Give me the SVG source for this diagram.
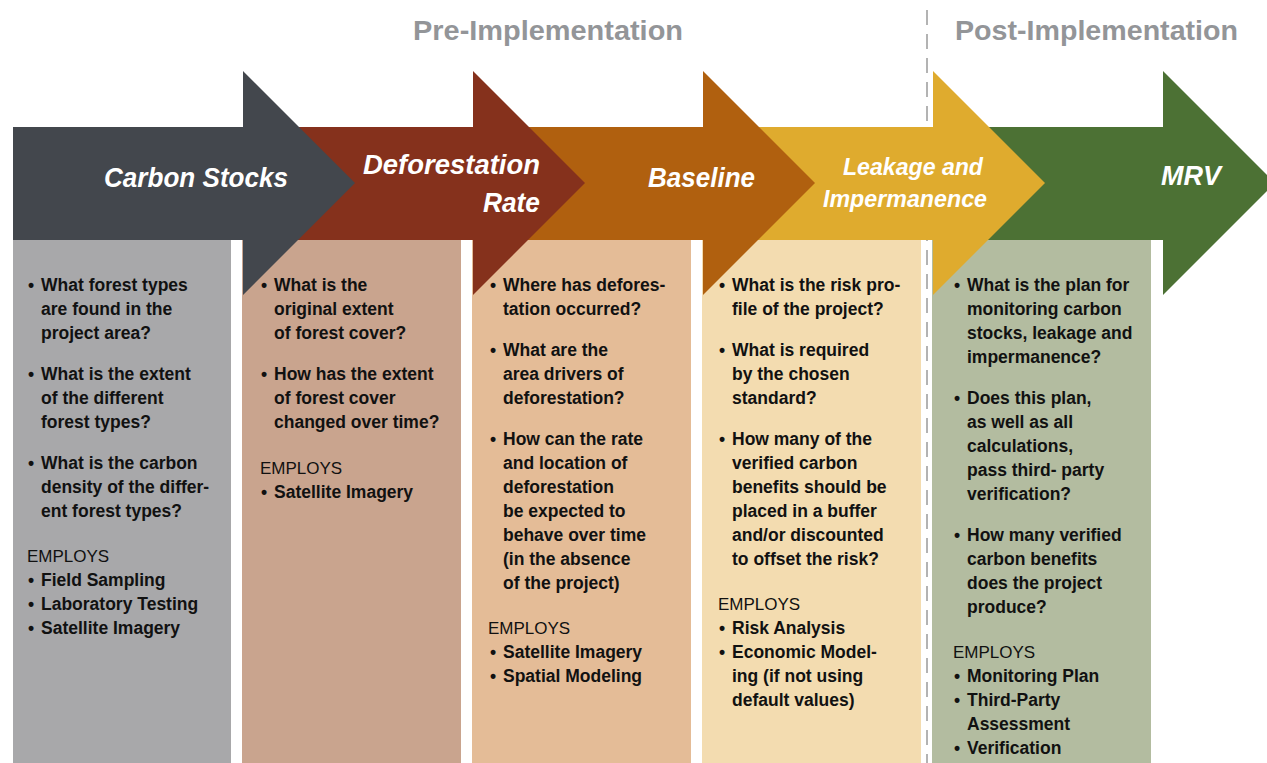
<svg xmlns="http://www.w3.org/2000/svg" width="1267" height="763" viewBox="0 0 1267 763">
<style>
.hdr{font-family:"Liberation Sans",Arial,sans-serif;font-weight:700;font-size:28px;fill:#939598}
.ttl{font-family:"Liberation Sans",Arial,sans-serif;font-weight:700;font-style:italic;font-size:28px;fill:#ffffff}
.ttl2{font-family:"Liberation Sans",Arial,sans-serif;font-weight:700;font-style:italic;font-size:24px;fill:#ffffff}
.b{font-family:"Liberation Sans",Arial,sans-serif;font-weight:700;font-size:17.5px;fill:#111111}
.e{font-family:"Liberation Sans",Arial,sans-serif;font-weight:400;font-size:17px;fill:#111111}
.divider{stroke:#9a9a9a;stroke-width:1.5;stroke-dasharray:15 9;fill:none}
</style>
<rect x="0" y="0" width="1267" height="763" fill="#ffffff"/>
<g id="headers">
<text class="hdr" x="413" y="40" textLength="270" lengthAdjust="spacingAndGlyphs">Pre-Implementation</text>
<text class="hdr" x="955" y="40" textLength="283" lengthAdjust="spacingAndGlyphs">Post-Implementation</text>
</g>
<g id="connectors">
<line class="divider" x1="927" y1="10" x2="927" y2="763"/>
</g>

<g id="mrv">
<rect x="932" y="240" width="219" height="523" fill="#b3bca0"/>
<polygon points="933,127 1163,127 1163,71 1275,183 1163,295 1163,240 933,240" fill="#4c7134"/>
<text class="ttl" x="1161" y="185" textLength="60" lengthAdjust="spacingAndGlyphs">MRV</text>
<text class="b"><tspan x="954" y="291">•</tspan><tspan x="967" y="291">What is the plan for</tspan><tspan x="967" y="315">monitoring carbon</tspan><tspan x="967" y="339">stocks, leakage and</tspan><tspan x="967" y="363">impermanence?</tspan><tspan x="954" y="404">•</tspan><tspan x="967" y="404">Does this plan,</tspan><tspan x="967" y="428">as well as all</tspan><tspan x="967" y="452">calculations,</tspan><tspan x="967" y="476">pass third- party</tspan><tspan x="967" y="500">verification?</tspan><tspan x="954" y="541">•</tspan><tspan x="967" y="541">How many verified</tspan><tspan x="967" y="565">carbon benefits</tspan><tspan x="967" y="589">does the project</tspan><tspan x="967" y="613">produce?</tspan></text>
<text class="e" x="953" y="658">EMPLOYS</text>
<text class="b"><tspan x="954" y="682">•</tspan><tspan x="967" y="682">Monitoring Plan</tspan><tspan x="954" y="706">•</tspan><tspan x="967" y="706">Third-Party</tspan><tspan x="967" y="730">Assessment</tspan><tspan x="954" y="754">•</tspan><tspan x="967" y="754">Verification</tspan></text>
</g>

<g id="leakage">
<rect x="702" y="240" width="219" height="523" fill="#f3dcb0"/>
<polygon points="703,127 933,127 933,71 1045,183 933,295 933,240 703,240" fill="#dfab2e"/>
<text class="ttl2" x="843" y="175" textLength="140" lengthAdjust="spacingAndGlyphs">Leakage and</text>
<text class="ttl2" x="823" y="207" textLength="164" lengthAdjust="spacingAndGlyphs">Impermanence</text>
<text class="b"><tspan x="719" y="291">•</tspan><tspan x="732" y="291">What is the risk pro-</tspan><tspan x="732" y="315">file of the project?</tspan><tspan x="719" y="356">•</tspan><tspan x="732" y="356">What is required</tspan><tspan x="732" y="380">by the chosen</tspan><tspan x="732" y="404">standard?</tspan><tspan x="719" y="445">•</tspan><tspan x="732" y="445">How many of the</tspan><tspan x="732" y="469">verified carbon</tspan><tspan x="732" y="493">benefits should be</tspan><tspan x="732" y="517">placed in a buffer</tspan><tspan x="732" y="541">and/or discounted</tspan><tspan x="732" y="565">to offset the risk?</tspan></text>
<text class="e" x="718" y="610">EMPLOYS</text>
<text class="b"><tspan x="719" y="634">•</tspan><tspan x="732" y="634">Risk Analysis</tspan><tspan x="719" y="658">•</tspan><tspan x="732" y="658">Economic Model-</tspan><tspan x="732" y="682">ing (if not using</tspan><tspan x="732" y="706">default values)</tspan></text>
</g>

<g id="baseline">
<rect x="472" y="240" width="219" height="523" fill="#e4bc97"/>
<polygon points="473,127 703,127 703,71 815,183 703,295 703,240 473,240" fill="#b0600f"/>
<text class="ttl" x="648" y="187" textLength="107" lengthAdjust="spacingAndGlyphs">Baseline</text>
<text class="b"><tspan x="490" y="291">•</tspan><tspan x="503" y="291">Where has defores-</tspan><tspan x="503" y="315">tation occurred?</tspan><tspan x="490" y="356">•</tspan><tspan x="503" y="356">What are the</tspan><tspan x="503" y="380">area drivers of</tspan><tspan x="503" y="404">deforestation?</tspan><tspan x="490" y="445">•</tspan><tspan x="503" y="445">How can the rate</tspan><tspan x="503" y="469">and location of</tspan><tspan x="503" y="493">deforestation</tspan><tspan x="503" y="517">be expected to</tspan><tspan x="503" y="541">behave over time</tspan><tspan x="503" y="565">(in the absence</tspan><tspan x="503" y="589">of the project)</tspan></text>
<text class="e" x="488" y="634">EMPLOYS</text>
<text class="b"><tspan x="490" y="658">•</tspan><tspan x="503" y="658">Satellite Imagery</tspan><tspan x="490" y="682">•</tspan><tspan x="503" y="682">Spatial Modeling</tspan></text>
</g>

<g id="deforestation-rate">
<rect x="242" y="240" width="219" height="523" fill="#c9a48e"/>
<polygon points="243,127 473,127 473,71 585,183 473,295 473,240 243,240" fill="#85311c"/>
<text class="ttl" x="363" y="174" textLength="177" lengthAdjust="spacingAndGlyphs">Deforestation</text>
<text class="ttl" x="483" y="212" textLength="57" lengthAdjust="spacingAndGlyphs">Rate</text>
<text class="b"><tspan x="261" y="291">•</tspan><tspan x="274" y="291">What is the</tspan><tspan x="274" y="315">original extent</tspan><tspan x="274" y="339">of forest cover?</tspan><tspan x="261" y="380">•</tspan><tspan x="274" y="380">How has the extent</tspan><tspan x="274" y="404">of forest cover</tspan><tspan x="274" y="428">changed over time?</tspan></text>
<text class="e" x="260" y="474">EMPLOYS</text>
<text class="b"><tspan x="261" y="498">•</tspan><tspan x="274" y="498">Satellite Imagery</tspan></text>
</g>

<g id="carbon-stocks">
<rect x="13" y="240" width="218" height="523" fill="#a8a8aa"/>
<polygon points="13,127 243,127 243,71 355,183 243,295 243,240 13,240" fill="#43474d"/>
<text class="ttl" x="104" y="187" textLength="184" lengthAdjust="spacingAndGlyphs">Carbon Stocks</text>
<text class="b"><tspan x="28" y="291">•</tspan><tspan x="41" y="291">What forest types</tspan><tspan x="41" y="315">are found in the</tspan><tspan x="41" y="339">project area?</tspan><tspan x="28" y="380">•</tspan><tspan x="41" y="380">What is the extent</tspan><tspan x="41" y="404">of the different</tspan><tspan x="41" y="428">forest types?</tspan><tspan x="28" y="469">•</tspan><tspan x="41" y="469">What is the carbon</tspan><tspan x="41" y="493">density of the differ-</tspan><tspan x="41" y="517">ent forest types?</tspan></text>
<text class="e" x="27" y="562">EMPLOYS</text>
<text class="b"><tspan x="28" y="586">•</tspan><tspan x="41" y="586">Field Sampling</tspan><tspan x="28" y="610">•</tspan><tspan x="41" y="610">Laboratory Testing</tspan><tspan x="28" y="634">•</tspan><tspan x="41" y="634">Satellite Imagery</tspan></text>
</g>
</svg>
